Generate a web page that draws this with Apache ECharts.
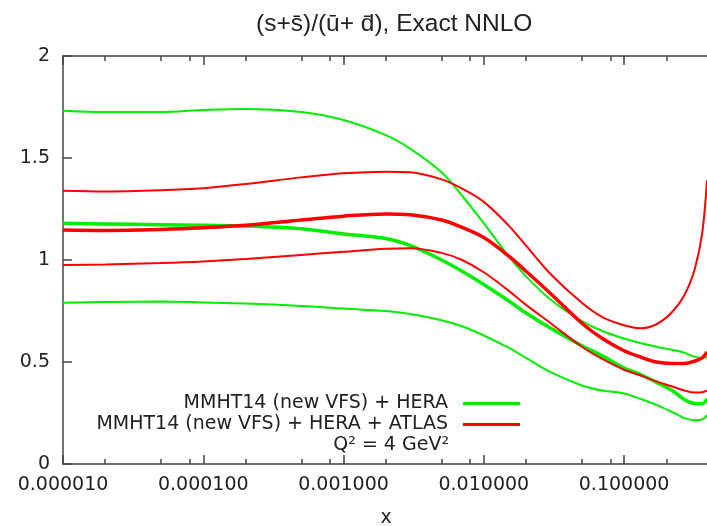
<!DOCTYPE html>
<html><head><meta charset="utf-8">
<script src="https://cdn.jsdelivr.net/npm/echarts@6/dist/echarts.min.js"></script>
<style>html,body{margin:0;padding:0;background:#fff}#c{width:707px;height:526px}</style>
</head><body><div id="c"></div>
<script>
// ---- data ----
const xValues     = [1e-5, 2e-5, 5e-5, 1e-4, 2e-4, 5e-4, 1e-3, 2e-3, 3e-3, 5e-3, 7e-3, 1e-2, 1.5e-2, 2e-2, 3e-2, 5e-2, 7e-2, 0.1, 0.13, 0.17, 0.22, 0.27, 0.32, 0.36, 0.39];
const greenCentral= [1.180, 1.177, 1.173, 1.170, 1.167, 1.153, 1.127, 1.105, 1.070, 1.000, 0.945, 0.880, 0.800, 0.740, 0.665, 0.580, 0.530, 0.470, 0.440, 0.400, 0.360, 0.315, 0.296, 0.295, 0.320];
const greenUpper  = [1.732, 1.725, 1.726, 1.735, 1.740, 1.725, 1.686, 1.612, 1.545, 1.430, 1.315, 1.180, 1.020, 0.920, 0.805, 0.700, 0.652, 0.615, 0.593, 0.575, 0.560, 0.545, 0.525, 0.520, 0.525];
const greenLower  = [0.791, 0.794, 0.796, 0.792, 0.787, 0.775, 0.762, 0.750, 0.735, 0.705, 0.675, 0.630, 0.570, 0.520, 0.450, 0.385, 0.360, 0.346, 0.320, 0.290, 0.255, 0.225, 0.215, 0.218, 0.240];
const redCentral  = [1.147, 1.145, 1.150, 1.158, 1.170, 1.196, 1.215, 1.226, 1.222, 1.196, 1.160, 1.110, 1.020, 0.945, 0.835, 0.690, 0.615, 0.555, 0.525, 0.500, 0.493, 0.493, 0.505, 0.520, 0.550];
const redUpper    = [1.340, 1.336, 1.342, 1.352, 1.372, 1.405, 1.425, 1.433, 1.430, 1.395, 1.350, 1.285, 1.170, 1.070, 0.930, 0.790, 0.720, 0.680, 0.665, 0.685, 0.745, 0.830, 0.960, 1.130, 1.390];
const redLower    = [0.975, 0.978, 0.985, 0.993, 1.005, 1.025, 1.040, 1.055, 1.058, 1.035, 1.000, 0.940, 0.850, 0.780, 0.690, 0.575, 0.515, 0.462, 0.435, 0.405, 0.380, 0.360, 0.350, 0.352, 0.360];

const xMajorTicks = [1e-5, 1e-4, 1e-3, 1e-2, 1e-1];
const xMinorTicks = [2e-5, 5e-5, 8e-5, 2e-4, 5e-4, 8e-4, 2e-3, 5e-3, 8e-3, 2e-2, 5e-2, 8e-2, 0.2];
const xRange = [1e-5, 0.403];
const yTicks = [0, 0.5, 1, 1.5, 2];

const titleText = '(s+s\u0304)/(\u016B+ d\u0304), Exact NNLO';
const nameHera = 'MMHT14 (new VFS) + HERA';
const nameAtlas = 'MMHT14 (new VFS) + HERA + ATLAS';
const q2Text = 'Q\u00B2 = 4 GeV\u00B2';

// ---- chart ----
const lg = v => Math.log10(v);
const FONT = 'DejaVu Sans';
const AX = '#444';
const GREEN = '#00ee00', RED = '#ff0000';

function mk(name, ys, color, width) {
  return {
    type: 'line', name: name, xAxisIndex: 0, yAxisIndex: 0,
    data: xValues.map((x, i) => [lg(x), ys[i]]),
    smooth: 0.35, symbol: 'none', silent: true,
    lineStyle: { color: color, width: width },
    itemStyle: { color: color },
    animation: false
  };
}

function xAx(position, ticks, len, showLine, showLabel) {
  const a = {
    type: 'value', position: position, min: lg(xRange[0]), max: lg(xRange[1]),
    axisLine: { show: showLine, lineStyle: { color: AX, width: 1.5 } },
    axisTick: { show: true, inside: true, length: len, customValues: ticks.map(lg), lineStyle: { color: AX, width: 1.5 } },
    axisLabel: { show: false },
    splitLine: { show: false }
  };
  if (showLabel) {
    a.axisLabel = {
      show: true, customValues: xMajorTicks.map(lg), margin: 12,
      formatter: v => Math.pow(10, v).toFixed(6),
      fontFamily: FONT, fontSize: 19, color: '#222'
    };
    a.name = 'x'; a.nameLocation = 'middle'; a.nameGap = 45;
    a.nameTextStyle = { fontFamily: FONT, fontSize: 19, color: '#222' };
  }
  return a;
}

const option = {
  backgroundColor: '#fff',
  animation: false,
  title: {
    text: titleText, left: 251, top: 7,
    textStyle: { fontFamily: 'Liberation Sans', fontSize: 24.5, fontWeight: 'normal', color: '#222' }
  },
  grid: { left: 63, right: -2, top: 56, bottom: 62, containLabel: false, outerBoundsMode: 'none' },
  xAxis: [
    xAx('bottom', xMajorTicks, 9, true, true),
    xAx('bottom', xMinorTicks, 5, false, false),
    xAx('top', xMajorTicks, 9, true, false),
    xAx('top', xMinorTicks, 5, false, false)
  ],
  yAxis: [{
    type: 'value', min: yTicks[0], max: yTicks[yTicks.length - 1], interval: 0.5,
    axisLine: { show: true, lineStyle: { color: AX, width: 1.5 } },
    axisTick: { show: true, inside: true, length: 9, lineStyle: { color: AX, width: 1.5 } },
    axisLabel: { margin: 13, fontFamily: FONT, fontSize: 19, color: '#222' },
    splitLine: { show: false }
  }],
  legend: {
    data: [nameHera, nameAtlas], orient: 'vertical', align: 'right',
    right: 182, top: 389, itemWidth: 57, itemHeight: 3, itemGap: 2,
    icon: 'rect', selectedMode: false,
    itemStyle: { borderWidth: 0 },
    textStyle: { fontFamily: FONT, fontSize: 19, color: '#222', padding: [0, 10, 0, 0] }
  },
  graphic: [{
    type: 'text', right: 258, top: 436,
    style: { text: q2Text, font: '19px "DejaVu Sans"', fill: '#222' }
  }],
  series: [
    mk(nameHera, greenCentral, GREEN, 3.5),
    mk(nameHera, greenUpper, GREEN, 2),
    mk(nameHera, greenLower, GREEN, 2),
    mk(nameAtlas, redCentral, RED, 3.5),
    mk(nameAtlas, redUpper, RED, 2),
    mk(nameAtlas, redLower, RED, 2)
  ]
};

const chart = echarts.init(document.getElementById('c'), null, { renderer: 'canvas' });
chart.setOption(option);
</script>
</body></html>
